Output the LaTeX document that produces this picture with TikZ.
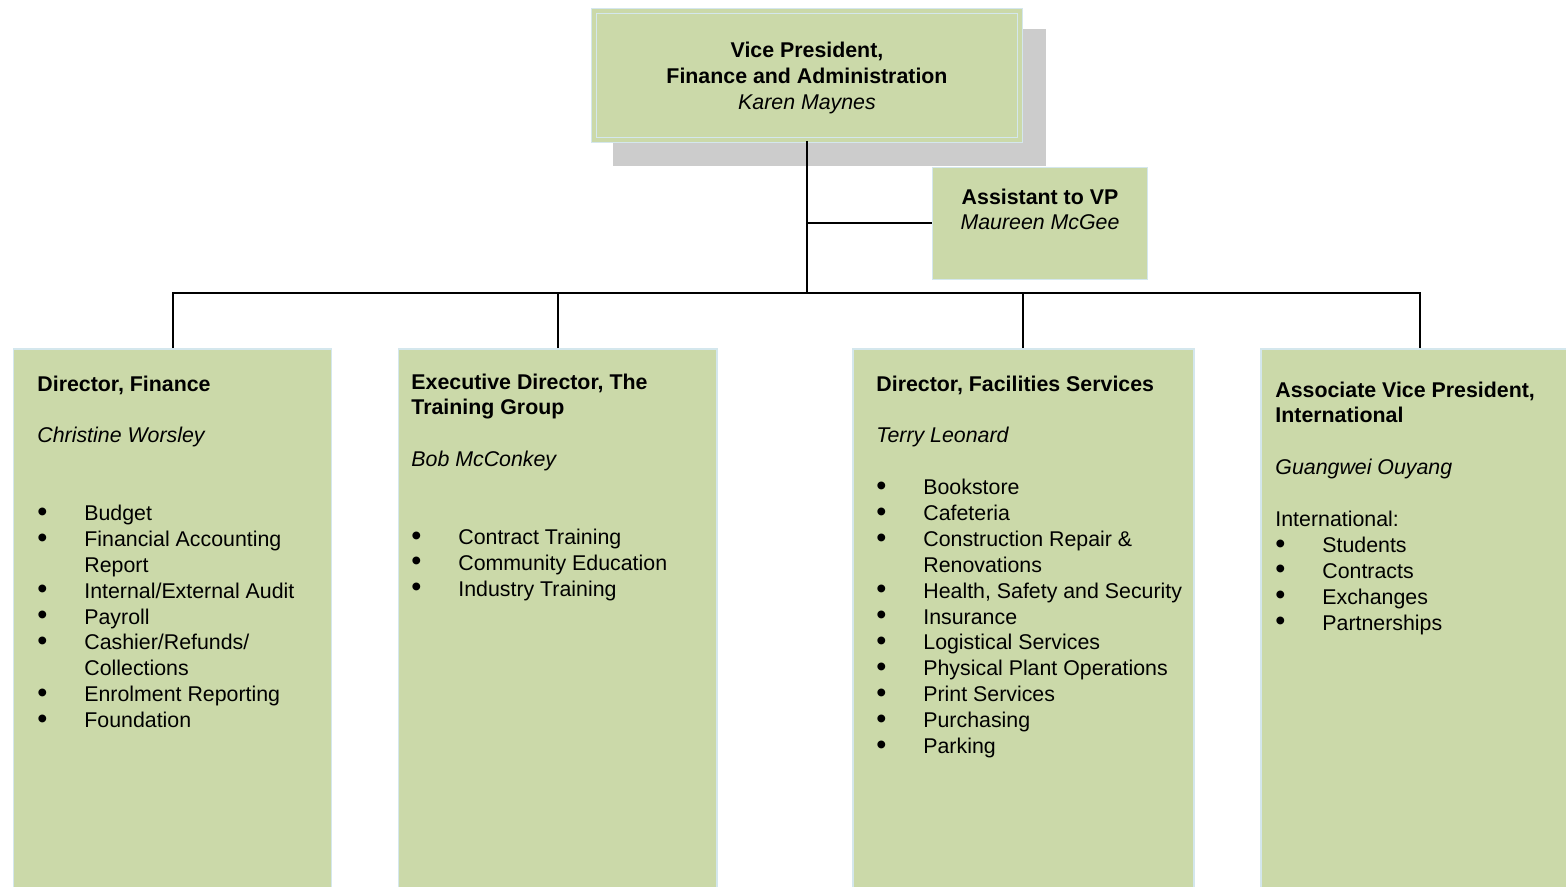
\documentclass[tikz,border=0pt]{standalone}
\usepackage{fontspec}
\setmainfont{Liberation Sans}
\usetikzlibrary{calc}

\definecolor{unitgreen}{RGB}{203,217,169}
\definecolor{unitedge}{RGB}{212,231,237}
\definecolor{shadowgray}{RGB}{204,204,204}

\newcommand{\pxu}{0.4685pt}
\newcommand{\unithead}[1]{\multicolumn{2}{@{}l@{}}{\bfseries #1}}
\newcommand{\unitname}[1]{\multicolumn{2}{@{}l@{}}{\itshape #1}}
\newcommand{\unitline}[1]{\multicolumn{2}{@{}l@{}}{#1}}
\newcommand{\unitbullet}{\raisebox{-0.35pt}{\scalebox{1.35}{\textbullet}}}

\tikzset{
    unit/.style={draw=unitedge, line width=0.7pt, fill=unitgreen, inner sep=0pt, anchor=north west},
    unittext/.style={inner sep=0pt, anchor=base west, font=\fontsize{10pt}{12.13pt}\selectfont},
    link/.style={line width=0.95pt},
}

\begin{document}
\begin{tikzpicture}[x=\pxu, y=-\pxu]
    \useasboundingbox (0,0) rectangle (1566,886);

    % vice president and assistant
    \fill [shadowgray] (613,29) rectangle (1046,166);
    \node [unit, line width=0.65pt, double=unitgreen, double distance=1.6pt,
           minimum width=426*\pxu, minimum height=129*\pxu] (vp) at (593.5,10.5) {};
    \node [unit, minimum width=215*\pxu, minimum height=112*\pxu] (asst) at (931.5,166.5) {};

    % the four units
    \node [unit, minimum width=318*\pxu, minimum height=560*\pxu] (fin) at (13,348) {};
    \node [unit, minimum width=318*\pxu, minimum height=560*\pxu] (tng) at (398,348) {};
    \node [unit, minimum width=341*\pxu, minimum height=560*\pxu] (fac) at (852,348) {};
    \node [unit, minimum width=318*\pxu, minimum height=560*\pxu] (intl) at (1260,348) {};

    % connectors
    \coordinate (bar) at (807,293);
    \draw [link] (vp.south) -- (vp.south |- bar);
    \draw [link] (vp.south |- asst.west) -- (asst.west);
    \draw [link] (fin.north) -- (fin.north |- bar) -- (intl.north |- bar) -- (intl.north);
    \draw [link] (tng.north) -- (tng.north |- bar);
    \draw [link] (fac.north) -- (fac.north |- bar);

    \node [unittext, anchor=base] (vpTxt) at (807,57.5) {\begin{tabular}[t]{@{}c@{}}
        \bfseries Vice President,\\
        \bfseries Finance and Administration\\
        \itshape Karen Maynes
    \end{tabular}};
    \node [unittext, anchor=base] (asstTxt) at (1040,204) {\begin{tabular}[t]{@{}c@{}}
        \bfseries Assistant to VP\\
        \itshape Maureen McGee
    \end{tabular}};

    \node [unittext] (finTxt) at (37,391) {\begin{tabular}[t]{@{}p{22pt}@{}l@{}}
        \unithead{Director, Finance}\\
        \\
        \unitname{Christine Worsley}\\
        \\
        \\
        \unitbullet & Budget\\
        \unitbullet & Financial Accounting\\
                    & Report\\
        \unitbullet & Internal/External Audit\\
        \unitbullet & Payroll\\
        \unitbullet & Cashier/Refunds/\\
                    & Collections\\
        \unitbullet & Enrolment Reporting\\
        \unitbullet & Foundation
    \end{tabular}};

    \node [unittext] (tngTxt) at (411,389) {\begin{tabular}[t]{@{}p{22pt}@{}l@{}}
        \unithead{Executive Director, The}\\
        \unithead{Training Group}\\
        \\
        \unitname{Bob McConkey}\\
        \\
        \\
        \unitbullet & Contract Training\\
        \unitbullet & Community Education\\
        \unitbullet & Industry Training
    \end{tabular}};

    \node [unittext] (facTxt) at (876,391) {\begin{tabular}[t]{@{}p{22pt}@{}l@{}}
        \unithead{Director, Facilities Services}\\
        \\
        \unitname{Terry Leonard}\\
        \\
        \unitbullet & Bookstore\\
        \unitbullet & Cafeteria\\
        \unitbullet & Construction Repair \&\\
                    & Renovations\\
        \unitbullet & Health, Safety and Security\\
        \unitbullet & Insurance\\
        \unitbullet & Logistical Services\\
        \unitbullet & Physical Plant Operations\\
        \unitbullet & Print Services\\
        \unitbullet & Purchasing\\
        \unitbullet & Parking
    \end{tabular}};

    \node [unittext] (intlTxt) at (1275,397) {\begin{tabular}[t]{@{}p{22pt}@{}l@{}}
        \unithead{Associate Vice President,}\\
        \unithead{International}\\
        \\
        \unitname{Guangwei Ouyang}\\
        \\
        \unitline{International:}\\
        \unitbullet & Students\\
        \unitbullet & Contracts\\
        \unitbullet & Exchanges\\
        \unitbullet & Partnerships
    \end{tabular}};
\end{tikzpicture}
\end{document}
